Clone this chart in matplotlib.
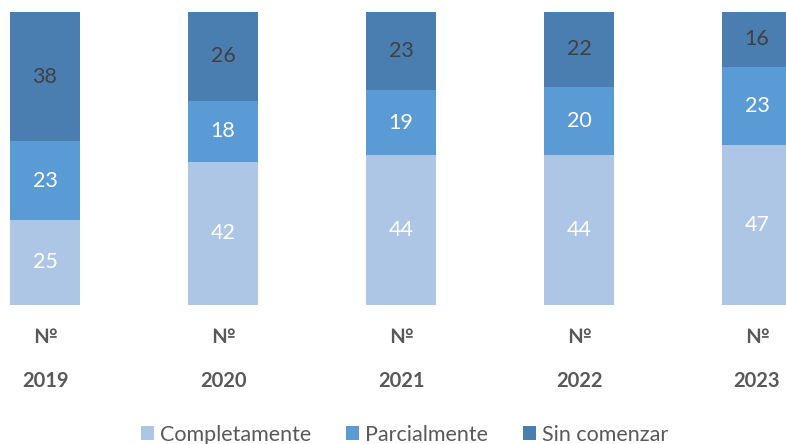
import matplotlib.pyplot as plt
import numpy as np

# data
years = ['2019', '2020', '2021', '2022', '2023']
completamente = [25, 42, 44, 44, 47]
parcialmente = [23, 18, 19, 20, 23]
sin_comenzar = [38, 26, 23, 22, 16]

series_names = ['Completamente', 'Parcialmente', 'Sin comenzar']
colors = ['#aec6e6', '#5b9bd5', '#4a7eb0']
text_colors = ['white', 'white', '#404040']

plt.rcParams['font.family'] = ['Lato', 'DejaVu Sans']

fig = plt.figure(figsize=(7.86, 4.44), dpi=100)
ax = fig.add_axes([0, 139 / 444, 1, 293 / 444])

x = np.arange(len(years))
width = 70 / 178
bottom = np.zeros(len(years))
for vals, name, c, tc in zip([completamente, parcialmente, sin_comenzar], series_names, colors, text_colors):
    vals = np.array(vals)
    ax.bar(x, vals, width, bottom=bottom, color=c, label=name)
    for xi, b, v in zip(x, bottom, vals):
        ax.text(xi, b + v / 2, str(v), ha='center', va='center', color=tc, fontsize=15.5)
    bottom = bottom + vals

ax.set_xlim(-45 / 178, 4 + 29 / 178)
ax.set_ylim(0, 86)
ax.set_yticks([])
ax.set_xticks(x)
ax.set_xticklabels(['№\n' + y for y in years], fontsize=14.5, fontweight='bold',
                   color='#595959', linespacing=2.5)
ax.tick_params(axis='x', length=0, pad=16)
for s in ax.spines.values():
    s.set_visible(False)

fig.legend(loc='lower center', bbox_to_anchor=(0.515, -0.045), ncol=3, frameon=False,
           fontsize=15.5, labelcolor='#595959', handlelength=0.6, handleheight=0.6,
           handletextpad=0.3, columnspacing=1.6)

fig.savefig('out.png', dpi=100)
